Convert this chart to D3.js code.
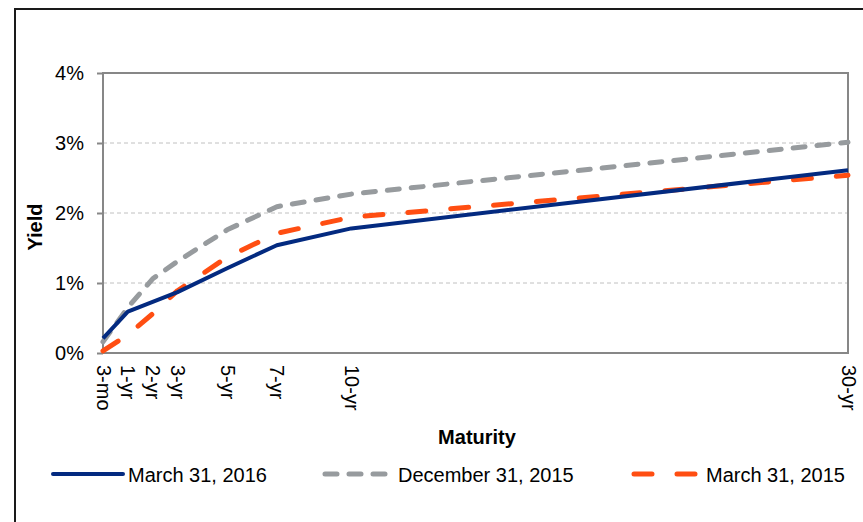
<!DOCTYPE html>
<html>
<head>
<meta charset="utf-8">
<script src="https://cdn.jsdelivr.net/npm/d3@7"></script>
<style>
  body { margin: 0; background: #fff; }
  text { font-family: Arial, "Liberation Sans", sans-serif; fill: #000; }
</style>
</head>
<body>
<div id="chart"></div>
<script>

// Axis positions of each maturity (3-mo sits at the origin, as in the source chart)
var maturities = [0, 1, 2, 3, 5, 7, 10, 30];
var maturityLabels = ["3-mo", "1-yr", "2-yr", "3-yr", "5-yr", "7-yr", "10-yr", "30-yr"];

// Yields, in percent
var yieldsMar2016 = [0.21, 0.59, 0.73, 0.87, 1.21, 1.54, 1.78, 2.61];
var yieldsDec2015 = [0.16, 0.65, 1.06, 1.31, 1.76, 2.09, 2.27, 3.01];
var yieldsMar2015 = [0.03, 0.26, 0.56, 0.89, 1.37, 1.71, 1.94, 2.54];

var yTicks = [0, 1, 2, 3, 4];

var seriesNames = ["March 31, 2016", "December 31, 2015", "March 31, 2015"];

var series = [
  {name: seriesNames[0], values: yieldsMar2016, colour: "#032a80", width: 4, dash: null,    cap: "butt"},
  {name: seriesNames[1], values: yieldsDec2015, colour: "#979b9e", width: 5, dash: "12,12", cap: "round"},
  {name: seriesNames[2], values: yieldsMar2015, colour: "#ff4e12", width: 5, dash: "18,25", cap: "round"}
];

var width  = 863;
var height = 522;

var plot = {left: 103, right: 848, top: 73, bottom: 353};
var fontSize = 20;

var svg = d3.select("#chart").append("svg")
  .attr("width",  width)
  .attr("height", height);

// outer frame
svg.append("rect")
  .attr("x",      15)
  .attr("y",      9)
  .attr("width",  width + 20)
  .attr("height", height + 20)
  .attr("fill",   "none")
  .attr("stroke", "#1a1a1a")
  .attr("stroke-width", 2);

var x = d3.scaleLinear()
  .domain([0, 30])
  .range([plot.left, plot.right]);

var y = d3.scaleLinear()
  .domain([0, 4])
  .range([plot.bottom, plot.top]);

// dashed gridlines
svg.append("g")
  .selectAll("line")
  .data([1, 2, 3])
  .enter()
  .append("line")
  .attr("x1", plot.left)
  .attr("x2", plot.right)
  .attr("y1", function(d) { return y(d); })
  .attr("y2", function(d) { return y(d); })
  .attr("stroke", "#c0c0c0")
  .attr("stroke-width", 1)
  .attr("stroke-dasharray", "4,3");

// plot border
svg.append("rect")
  .attr("x",      plot.left)
  .attr("y",      plot.top)
  .attr("width",  plot.right - plot.left)
  .attr("height", plot.bottom - plot.top)
  .attr("fill",   "none")
  .attr("stroke", "#878787")
  .attr("stroke-width", 2);

// y axis
var yAxis = svg.append("g")
  .attr("transform", "translate(" + plot.left + ",0)")
  .call(d3.axisLeft(y)
    .tickValues(yTicks)
    .tickSize(6)
    .tickPadding(13)
    .tickFormat(function(d) { return d + "%"; }));

yAxis.select(".domain").remove();
yAxis.selectAll("line").attr("stroke", "#878787").attr("stroke-width", 2);
yAxis.selectAll("text")
  .attr("font-size", fontSize)
  .attr("font-family", "Arial, 'Liberation Sans', sans-serif")
  .attr("fill", "#000");

// x axis, labels rotated to read downwards
var xAxis = svg.append("g")
  .attr("transform", "translate(0," + plot.bottom + ")")
  .call(d3.axisBottom(x)
    .tickValues(maturities)
    .tickSize(0)
    .tickFormat(function(d, i) { return maturityLabels[i]; }));

xAxis.select(".domain").remove();
xAxis.selectAll("text")
  .attr("font-size", fontSize)
  .attr("font-family", "Arial, 'Liberation Sans', sans-serif")
  .attr("fill", "#000")
  .attr("text-anchor", "start")
  .attr("dy", "0.35em")
  .attr("transform", "translate(0,12) rotate(90)")
  .attr("y", 0)
  .attr("x", 0);

// axis titles
svg.append("text")
  .attr("transform", "translate(42,227) rotate(-90)")
  .attr("text-anchor", "middle")
  .attr("font-size", fontSize)
  .attr("font-weight", "bold")
  .text("Yield");

svg.append("text")
  .attr("x", 477)
  .attr("y", 444)
  .attr("text-anchor", "middle")
  .attr("font-size", fontSize)
  .attr("font-weight", "bold")
  .text("Maturity");

// series lines
var line = d3.line()
  .x(function(d, i) { return x(maturities[i]); })
  .y(function(d) { return y(d); });

series.slice().reverse().forEach(function(s) {
  svg.append("path")
    .datum(s.values)
    .attr("d", line)
    .attr("fill", "none")
    .attr("stroke", s.colour)
    .attr("stroke-width", s.width)
    .attr("stroke-linecap", s.cap)
    .attr("stroke-linejoin", "round")
    .attr("stroke-dasharray", s.dash);
});

// legend
var legendY = 482;
var legendLineX = [53, 325, 634];
var legendTextX = [128, 398, 706];

series.forEach(function(s, i) {
  var g = svg.append("g");
  g.append("line")
    .attr("x1", legendLineX[i])
    .attr("x2", legendLineX[i] + (s.dash ? 62 : 70))
    .attr("y1", legendY - 8)
    .attr("y2", legendY - 8)
    .attr("stroke", s.colour)
    .attr("stroke-width", s.width)
    .attr("stroke-linecap", "round")
    .attr("stroke-dasharray", s.dash);
  g.append("text")
    .attr("x", legendTextX[i])
    .attr("y", legendY)
    .attr("font-size", fontSize)
    .text(s.name);
});

</script>
</body>
</html>
